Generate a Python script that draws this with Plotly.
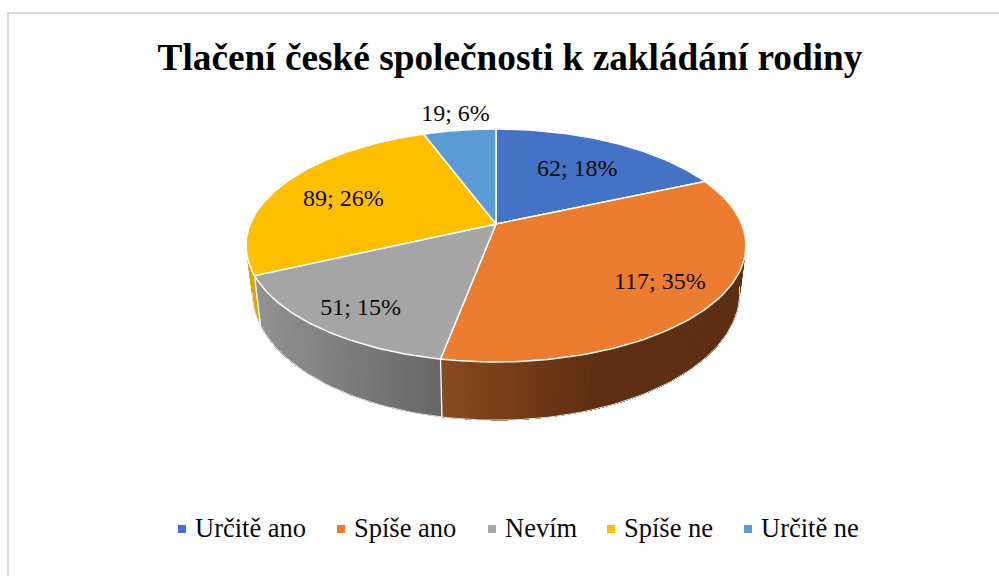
import numpy as np
import plotly.graph_objects as go

categories = ["Určitě ano", "Spíše ano", "Nevím", "Spíše ne", "Určitě ne"]
values = [62, 117, 51, 89, 19]
percent_labels = [18, 35, 15, 26, 6]
colors = ["#4472C4", "#EC7C30", "#A5A5A5", "#FDBF00", "#5B9BD5"]
wall_from = [None, "#8A4A20", "#929292", "#DDA600", None]
wall_to = [None, "#5E2F12", "#676767", "#DDA600", None]
label_radius = [0.67, 0.775, 0.80, 0.71, 1.20]
label_nudge_x = [0, 0, 1, 1, 2]
label_nudge_y = [3, 0, 5, 5, 0]
legend_marker_x = [182, 341, 492, 611, 748]
title = "Tlačení české společnosti k zakládání rodiny"

# perspective pie geometry, in pixels of the 999x576 frame
CX, CY, A, B, K = 496.0, 224.0, 245.7, 112.5, 0.1845
SX, SY, DY = 0.975, 1.096, 45.0
WALL_FADE_END = 600.0
LEGEND_Y = 529
LEGEND_TEXT_DX = 13
FONT = "Liberation Serif"


def top(t, r=1.0):
    X, Y = r * np.sin(t), r * np.cos(t)
    w = 1 + K * Y
    return CX + A * X / w, CY - B * Y / w


def bottom(t):
    x, y = top(t)
    return CX + SX * (x - CX), CY + DY + SY * (y - CY)


def hex_rgb(h):
    return np.array([int(h[i:i + 2], 16) for i in (1, 3, 5)], dtype=float)


def mix(c0, c1, f):
    f = min(max(f, 0.0), 1.0)
    c = hex_rgb(c0) * (1 - f) + hex_rgb(c1) * f
    return "rgb(%d,%d,%d)" % tuple(c.round())


total = sum(values)
edges = np.cumsum([0] + values) / total * 2 * np.pi
fig = go.Figure()

# side wall, front half only: each gradient step repaints the rest of its slice
wall_lo, wall_hi = np.radians(98.0), np.radians(259.4)
outer_t = np.linspace(wall_lo, wall_hi, 120)
for i in range(len(values)):
    if wall_from[i] is None:
        continue
    lo, hi = max(edges[i], wall_lo), min(edges[i + 1], wall_hi)
    if hi <= lo:
        continue
    n = max(2, int((hi - lo) / np.radians(1.0)))
    ts = np.linspace(lo, hi, n + 1)
    xs_seg = top(ts)[0]
    seg_min, seg_max = xs_seg.min(), xs_seg.max()
    for j in range(n):
        rest = ts[j:]
        tx, ty = top(rest)
        bx_, by_ = bottom(rest)
        xm = xs_seg[j]
        if i == 1:
            f = (xm - seg_min) / (WALL_FADE_END - seg_min)
        else:
            f = (xm - seg_min) / max(seg_max - seg_min, 1)
        col = mix(wall_from[i], wall_to[i], f)
        fig.add_trace(go.Scatter(x=np.r_[tx, bx_[::-1], tx[0]], y=np.r_[ty, by_[::-1], ty[0]],
                                 mode="lines", fill="toself", fillcolor=col,
                                 line=dict(color=col, width=0),
                                 hoverinfo="skip", showlegend=False))

# outer rim and edge between wall pieces
bx, by = zip(*[bottom(t) for t in outer_t])
fig.add_trace(go.Scatter(x=bx, y=by, mode="lines", line=dict(color="#E2E2E2", width=1),
                         hoverinfo="skip", showlegend=False))
for e in edges[2:4]:
    x0, y0 = top(e)
    x1, y1 = bottom(e)
    fig.add_trace(go.Scatter(x=[x0, x1], y=[y0, y1], mode="lines",
                             line=dict(color="white", width=1.3),
                             hoverinfo="skip", showlegend=False))

# top face
for i, cat in enumerate(categories):
    ts = np.linspace(edges[i], edges[i + 1], 80)
    xs, ys = top(ts)
    fig.add_trace(go.Scatter(x=[CX, *xs, CX], y=[CY, *ys, CY], mode="lines", fill="toself",
                             fillcolor=colors[i], line=dict(color="white", width=1.5),
                             name=cat, showlegend=False, hoverinfo="name"))

# data labels
mids = (edges[:-1] + edges[1:]) / 2
lx, ly = zip(*[top(m, r) for m, r in zip(mids, label_radius)])
fig.add_trace(go.Scatter(x=np.array(lx) + label_nudge_x, y=np.array(ly) + label_nudge_y, mode="text",
                         text=[f"{v}; {p}%" for v, p in zip(values, percent_labels)],
                         textposition="middle center",
                         textfont=dict(family=FONT, size=24, color="#0A0A0A"),
                         hoverinfo="skip", showlegend=False))

# legend row
fig.add_trace(go.Scatter(x=legend_marker_x, y=[LEGEND_Y] * len(categories), mode="markers",
                         marker=dict(symbol="square", size=8, color=colors),
                         hoverinfo="skip", showlegend=False))
fig.add_trace(go.Scatter(x=np.array(legend_marker_x) + LEGEND_TEXT_DX,
                         y=[LEGEND_Y + 1.5] * len(categories), mode="text",
                         text=categories, textposition="middle right",
                         textfont=dict(family=FONT, size=26.5, color="#0A0A0A"),
                         hoverinfo="skip", showlegend=False))

fig.update_layout(
    width=999, height=576, margin=dict(l=0, r=0, t=0, b=0),
    paper_bgcolor="white", plot_bgcolor="white", showlegend=False,
    title=dict(text=f"<b>{title}</b>", x=0.5105, xanchor="center", y=0.902, yanchor="middle",
               font=dict(family=FONT, size=37.3, color="black")),
    xaxis=dict(range=[0, 999], visible=False, fixedrange=True),
    yaxis=dict(range=[576, 0], visible=False, fixedrange=True),
    shapes=[dict(type="path", path="M 8 576 L 8 13 L 999 13", xref="x", yref="y",
                 line=dict(color="#D9D9D9", width=2), layer="below")],
)
fig.write_html("out.html", config={"displayModeBar": False},
               post_script="document.body.style.margin='0';document.body.style.overflow='hidden';")
